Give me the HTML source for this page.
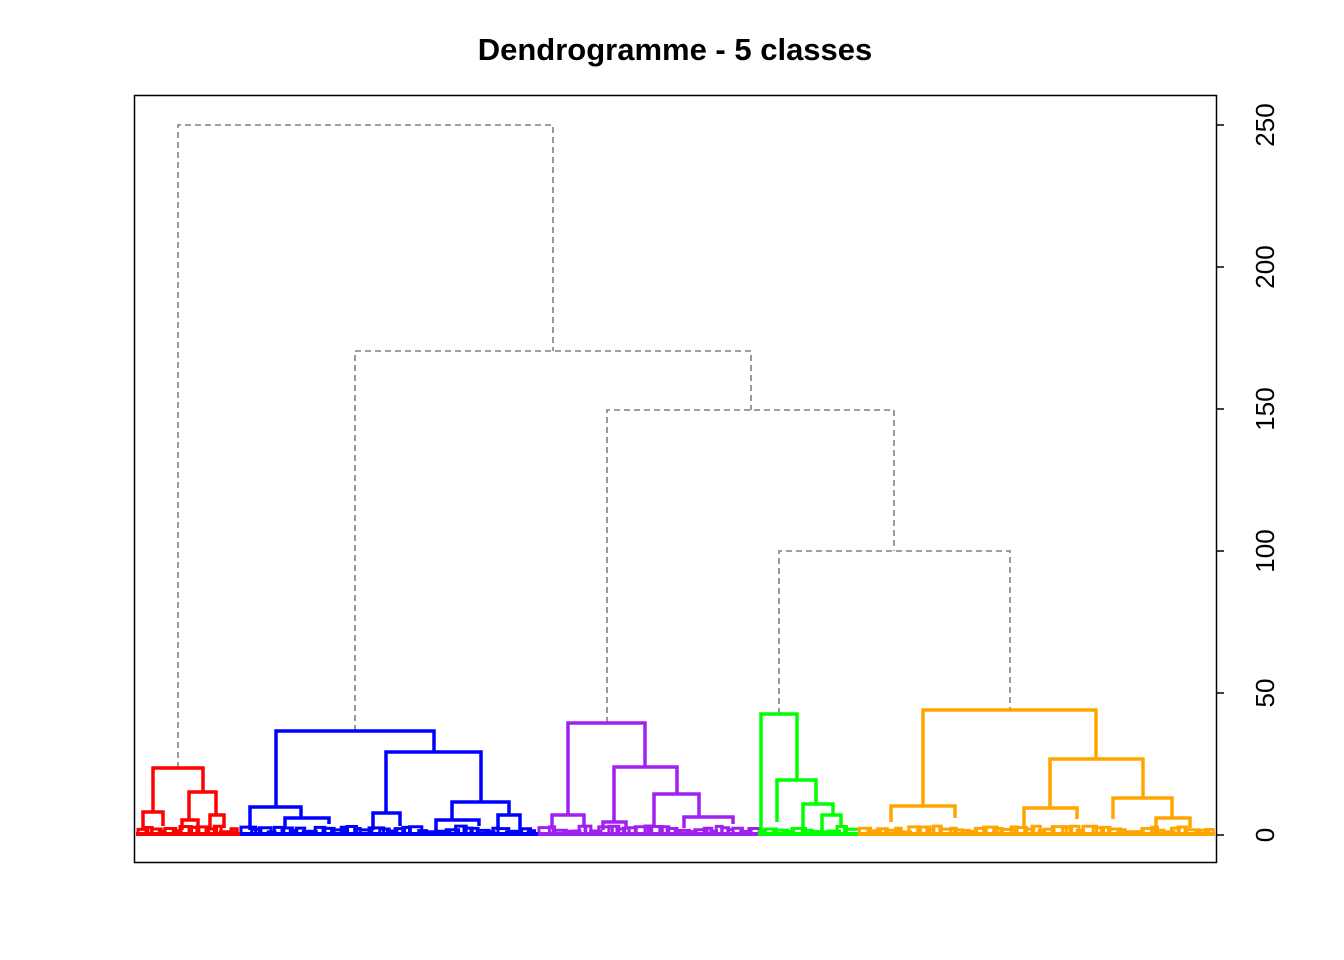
<!DOCTYPE html>
<html><head><meta charset="utf-8"><style>
body{margin:0;background:#fff}
svg{display:block}
</style></head><body>
<svg id="s" width="1344" height="960" xmlns="http://www.w3.org/2000/svg" font-family="Liberation Sans, sans-serif">
<rect width="1344" height="960" fill="#fff"/>
<text x="675" y="60" text-anchor="middle" font-size="31" font-weight="bold">Dendrogramme - 5 classes</text>
<rect x="134.5" y="95.5" width="1082" height="767" fill="none" stroke="#000" stroke-width="1.5"/>
<g stroke="#000" stroke-width="1.5">
<line x1="1216" y1="835" x2="1224" y2="835"/><line x1="1216" y1="693" x2="1224" y2="693"/>
<line x1="1216" y1="551" x2="1224" y2="551"/><line x1="1216" y1="409" x2="1224" y2="409"/>
<line x1="1216" y1="267" x2="1224" y2="267"/><line x1="1216" y1="125" x2="1224" y2="125"/>
</g>
<g font-size="26" text-anchor="middle">
<text transform="translate(1274,835) rotate(-90)">0</text>
<text transform="translate(1274,693) rotate(-90)">50</text>
<text transform="translate(1274,551) rotate(-90)">100</text>
<text transform="translate(1274,409) rotate(-90)">150</text>
<text transform="translate(1274,267) rotate(-90)">200</text>
<text transform="translate(1274,125) rotate(-90)">250</text>
</g>
<g fill="none" stroke="#808080" stroke-width="1.6" stroke-dasharray="6,4">
<path d="M178 768V125H553V351"/>
<path d="M355 731V351H751V410"/>
<path d="M607 723V410H894V551"/>
<path d="M779 714V551H1010V710"/>
</g>
<g id="fz" fill="none" stroke-width="3"></g>
<g fill="none" stroke-width="3.5" stroke-linejoin="miter">
<g stroke="#ff0000">
<path d="M153 812V768H203V792"/>
<path d="M143 828V812H163V826"/>
<path d="M189 820V792H216V815"/>
<path d="M182 830V820H198V830"/>
<path d="M210 830V815H224V828"/>
</g>
<g stroke="#0000ff">
<path d="M276 807V731H434V752"/>
<path d="M250 830V807H301V818"/>
<path d="M285 828V818H329V824"/>
<path d="M386 813V752H481V802"/>
<path d="M373 830V813H400V826"/>
<path d="M452 820V802H509V815"/>
<path d="M436 830V820H479V826"/>
<path d="M498 830V815H520V828"/>
</g>
<g stroke="#a020f0">
<path d="M568 815V723H645V767"/>
<path d="M552 828V815H584V826"/>
<path d="M614 822V767H677V794"/>
<path d="M603 830V822H626V828"/>
<path d="M654 826V794H699V817"/>
<path d="M684 828V817H733V824"/>
</g>
<g stroke="#00ff00">
<path d="M761 830V714H797V780"/>
<path d="M777 822V780H816V804"/>
<path d="M803 830V804H833V815"/>
<path d="M822 830V815H841V828"/>
</g>
<g stroke="#ffa500">
<path d="M923 806V710H1096V759"/>
<path d="M891 822V806H955V818"/>
<path d="M1050 808V759H1143V798"/>
<path d="M1024 828V808H1077V819"/>
<path d="M1113 819V798H1172V818"/>
<path d="M1156 830V818H1190V828"/>
</g>
</g>
<g stroke-width="4">
<line x1="136" y1="834" x2="240" y2="834" stroke="#ff0000"/>
<line x1="240" y1="834" x2="538" y2="834" stroke="#0000ff"/>
<line x1="538" y1="834" x2="758" y2="834" stroke="#a020f0"/>
<line x1="758" y1="834" x2="858" y2="834" stroke="#00ff00"/>
<line x1="858" y1="834" x2="1215" y2="834" stroke="#ffa500"/>
</g>
</svg>
<script>
(function(){
var g=document.getElementById('fz');var seed=7;function r(){seed=(seed*9301+49297)%233280;return seed/233280;}
var cl=[[138,238,'#ff0000'],[241,536,'#0000ff'],[539,756,'#a020f0'],[759,856,'#00ff00'],[859,1213,'#ffa500']];
var h='';
cl.forEach(function(c){for(var x=c[0];x<c[1]-5;){var w=5+r()*10;var y=826+r()*6;h+='<path stroke="'+c[2]+'" d="M'+x.toFixed(1)+' 834V'+y.toFixed(1)+'H'+(x+w).toFixed(1)+'V834"/>';x+=w*0.6+2;}});
g.innerHTML=h;})();
</script>
</body></html>
